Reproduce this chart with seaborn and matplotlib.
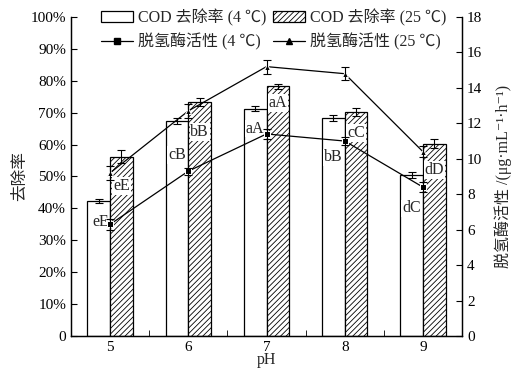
import matplotlib
matplotlib.use("Agg")
import matplotlib.pyplot as plt
import seaborn as sns
import pandas as pd
import numpy as np
from matplotlib.patches import Patch
from matplotlib.lines import Line2D
from matplotlib.ticker import FixedLocator
from matplotlib.container import BarContainer

sns.set_style("ticks")
plt.rcParams['font.family'] = ['Liberation Serif', 'Noto Sans CJK SC', 'DejaVu Serif']
plt.rcParams['hatch.linewidth'] = 0.6
plt.rcParams['axes.unicode_minus'] = False

ph = [5, 6, 7, 8, 9]
cod_4 = [42.3, 67.3, 71.2, 68.3, 50.4]
cod_4_err = [0.7, 1.0, 0.8, 1.0, 1.0]
cod_25 = [56.2, 73.3, 78.3, 70.2, 60.3]
cod_25_err = [2.0, 1.2, 0.8, 1.2, 1.5]
dha_4 = [6.3, 9.3, 11.4, 11.0, 8.4]
dha_4_err = [0.3, 0.2, 0.3, 0.2, 0.3]
dha_25 = [9.2, 12.7, 15.2, 14.8, 10.4]
dha_25_err = [0.4, 0.4, 0.4, 0.35, 0.3]
lab_4 = ["eE", "cB", "aA", "bB", "dC"]
lab_4_y = [35.7, 56.7, 65.0, 56.0, 40.0]
lab_25 = ["eE", "bB", "aA", "cC", "dD"]
lab_25_y = [47.0, 64.0, 73.0, 63.6, 52.0]

g4 = "4 ℃"
g25 = "25 ℃"
bars = pd.DataFrame({
    "pH": ph + ph,
    "cod": cod_4 + cod_25,
    "grp": [g4] * 5 + [g25] * 5,
})
lines = pd.DataFrame({
    "pH": ph + ph,
    "dha": dha_4 + dha_25,
    "grp": [g4] * 5 + [g25] * 5,
})

fig = plt.figure(figsize=(5.18, 3.74), dpi=100)
ax = fig.add_axes([0.137, 0.1016, 0.755, 0.853])

sns.barplot(data=bars, x="pH", y="cod", hue="grp", hue_order=[g4, g25],
            native_scale=True, width=0.58, dodge=True, ax=ax,
            palette={g4: "white", g25: "white"}, edgecolor="black",
            linewidth=0.9, errorbar=None, legend=False)

errs = [cod_4_err, cod_25_err]
vals = [cod_4, cod_25]
bar_conts = [c for c in ax.containers if isinstance(c, BarContainer)]
for i, cont in enumerate(bar_conts):
    for j, p in enumerate(list(cont.patches)):
        if i == 1:
            p.set_hatch("//////")
        xc = p.get_x() + p.get_width() / 2
        ax.errorbar(xc, vals[i][j], yerr=errs[i][j], color="black",
                    capsize=3, elinewidth=0.8, capthick=0.8, zorder=4)
        txt_y = lab_4_y[j] if i == 0 else lab_25_y[j]
        txt = lab_4[j] if i == 0 else lab_25[j]
        if i == 0 and j == 0:
            ax.text(p.get_x() + p.get_width() * 0.95, txt_y, txt, ha="right",
                    va="center", fontsize=11.5, zorder=6)
        else:
            ax.text(xc, txt_y, txt, ha="center", va="center", fontsize=11.5,
                    zorder=6,
                    bbox=dict(boxstyle="square,pad=0.05", fc="white", ec="none"))

ax.set_xlim(4.5, 9.5)
ax.set_ylim(0, 100)
ax.set_yticks(np.arange(0, 101, 10))
ax.set_yticklabels(["0"] + [f"{v}%" for v in range(10, 101, 10)])
ax.set_xticks(ph)
ax.set_xticklabels([str(v) for v in ph])
ax.xaxis.set_minor_locator(FixedLocator([5.5, 6.5, 7.5, 8.5]))
ax.tick_params(axis="both", which="both", direction="in", labelsize=11,
               color="black", labelcolor="black")
ax.tick_params(axis="x", which="major", length=4)
ax.tick_params(axis="x", which="minor", length=4)
ax.tick_params(axis="y", length=4)
ax.set_xlabel("pH", fontsize=11.5, labelpad=-1)
ax.set_ylabel("去除率", fontsize=12, labelpad=2)
for s in ax.spines.values():
    s.set_linewidth(0.9)
    s.set_color("black")
ax.spines["top"].set_visible(False)

ax2 = ax.twinx()
sns.lineplot(data=lines, x="pH", y="dha", hue="grp", style="grp",
             hue_order=[g4, g25], style_order=[g4, g25],
             palette={g4: "black", g25: "black"},
             markers={g4: "s", g25: "^"}, dashes=False, markersize=5,
             linewidth=0.9, ax=ax2, legend=False, zorder=5)
ax2.errorbar(ph, dha_4, yerr=dha_4_err, fmt="none", ecolor="black",
             capsize=3, elinewidth=0.8, capthick=0.8, zorder=5)
ax2.errorbar(ph, dha_25, yerr=dha_25_err, fmt="none", ecolor="black",
             capsize=3, elinewidth=0.8, capthick=0.8, zorder=5)
ax2.set_ylim(0, 18)
ax2.set_yticks(np.arange(0, 19, 2))
ax2.tick_params(axis="y", direction="in", labelsize=11, length=4,
                color="black", labelcolor="black")
ax2.set_ylabel("脱氢酶活性 /(μg·mL⁻¹·h⁻¹)", fontsize=11.5, labelpad=9)
ax2.set_xlabel("")
for s in ax2.spines.values():
    s.set_linewidth(0.9)
    s.set_color("black")
ax2.spines["top"].set_visible(False)

handles = [
    Patch(facecolor="white", edgecolor="black", linewidth=0.9),
    Line2D([], [], color="black", marker="s", markersize=5, linewidth=0.9),
    Patch(facecolor="white", edgecolor="black", hatch="//////", linewidth=0.9),
    Line2D([], [], color="black", marker="^", markersize=5, linewidth=0.9),
]
labels = ["COD 去除率 (4 ℃)", "脱氢酶活性 (4 ℃)",
          "COD 去除率 (25 ℃)", "脱氢酶活性 (25 ℃)"]
ax2.legend(handles, labels, ncol=2, frameon=False, fontsize=11.5,
           loc="upper left", bbox_to_anchor=(0.06, 1.045),
           handlelength=2.0, handletextpad=0.3, columnspacing=0.45,
           labelspacing=0.45, borderaxespad=0)

fig.savefig("out.png", dpi=100)
